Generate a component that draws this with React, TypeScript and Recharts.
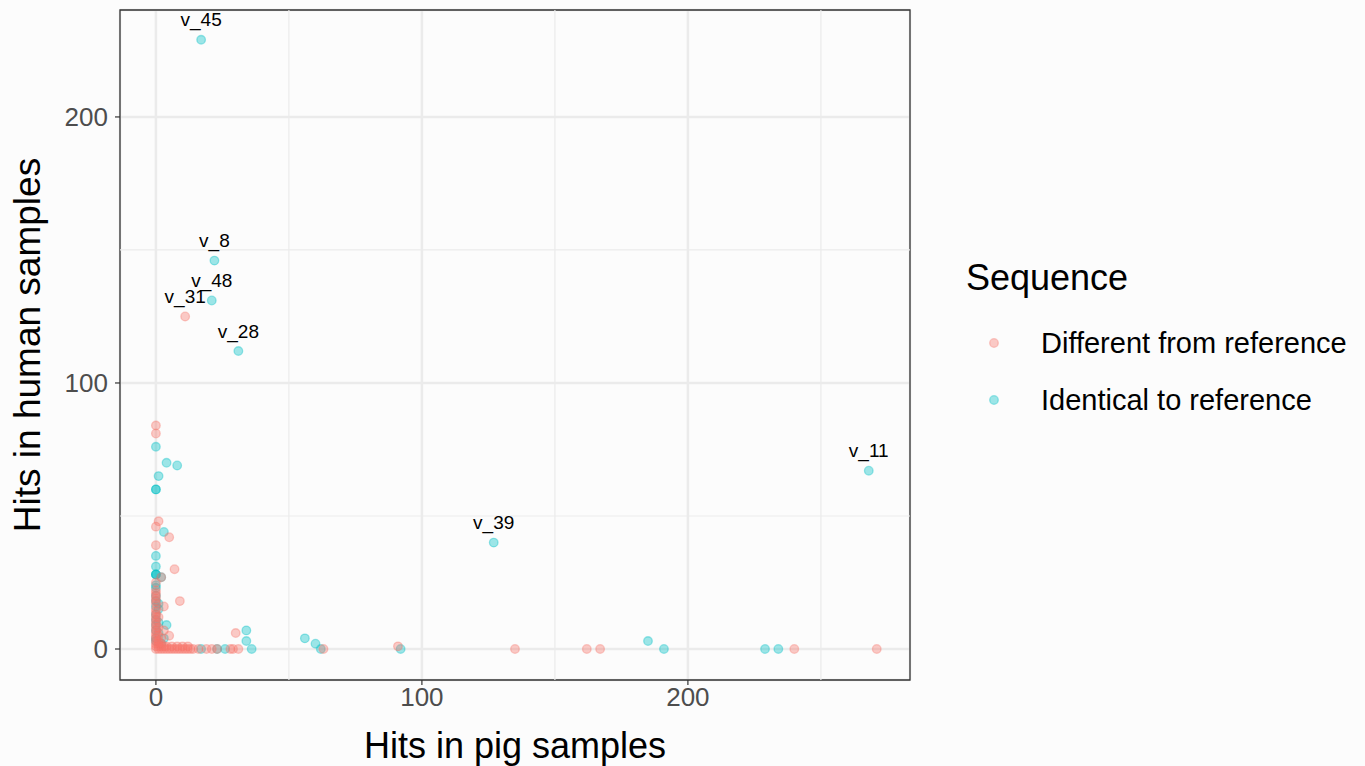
import React from "react";
import {
  ScatterChart, Scatter, XAxis, YAxis, CartesianGrid, ReferenceLine, ReferenceArea, LabelList,
} from "recharts";

// [pig hits, human hits]
const differentPts: [number, number][] = [
  [0, 84], [0, 81], [1, 48], [0, 46], [5, 42], [0, 39], [7, 30], [2, 27], [9, 18], [3, 16], [5, 5], [30, 6], [91, 1],
  [0, 25], [0, 22], [0, 21], [0, 20], [0, 19], [0, 18], [0, 17], [0, 15], [0, 14], [0, 13], [0, 12], [0, 11],
  [0, 10], [0, 9], [0, 8], [0, 7], [0, 6], [0, 5], [0, 4], [0, 3], [0, 2], [0, 1], [0, 0],
  [1, 0], [1, 1], [1, 2], [1, 3], [1, 5], [1, 8], [1, 12], [2, 0], [2, 1], [2, 2], [2, 4], [3, 0], [3, 1], [3, 7],
  [4, 0], [5, 0], [6, 0], [7, 0], [8, 0], [9, 0], [10, 0], [11, 0], [12, 0], [13, 0], [14, 0],
  [4, 1], [6, 1], [8, 1], [10, 1], [12, 1],
  [16, 0], [19, 0], [21, 0], [23, 0], [28, 0], [29, 0], [31, 0], [63, 0],
  [135, 0], [162, 0], [167, 0], [240, 0], [271, 0],
];
const differentLabeled: [number, number, string][] = [[11, 125, "v_31"]];

const identicalPts: [number, number][] = [
  [0, 76], [4, 70], [8, 69], [1, 65], [0, 60], [0, 60], [3, 44], [0, 35], [0, 31], [0, 28], [0, 28], [0, 28],
  [2, 27], [0, 24], [0, 23], [0, 20], [0, 18], [1, 17], [0, 16], [1, 15], [0, 13], [0, 11], [1, 10], [0, 9],
  [0, 7], [1, 6], [0, 4], [0, 3], [4, 9], [3, 4], [2, 2],
  [17, 0], [23, 0], [26, 0], [34, 7], [34, 3], [36, 0], [56, 4], [60, 2], [62, 0], [92, 0],
  [185, 3], [191, 0], [229, 0], [234, 0],
];
const identicalLabeled: [number, number, string][] = [
  [17, 229, "v_45"], [22, 146, "v_8"], [21, 131, "v_48"], [31, 112, "v_28"], [268, 67, "v_11"], [127, 40, "v_39"],
];

const seriesNames = ["Different from reference", "Identical to reference"];
const seriesColors = ["#F8766D", "#00BFC4"];
const majorTicks = [0, 100, 200];
const minorX = [50, 150, 250];
const minorY = [50, 150];

const X_DOMAIN: [number, number] = [-13.5, 283.5];
const Y_DOMAIN: [number, number] = [-11.65, 240.2];
const FONT = "'Liberation Sans', Arial, Helvetica, sans-serif";

const toRows = (pts: [number, number][], labeled: [number, number, string][]) => [
  ...pts.map(([pig, human]) => ({ pig, human, name: "" })),
  ...labeled.map(([pig, human, name]) => ({ pig, human, name })),
];

const dot = (color: string) => (props: any) => (
  <circle cx={props.cx} cy={props.cy} r={4.3} fill={color} fillOpacity={0.38}
    stroke={color} strokeOpacity={0.38} strokeWidth={1.3} />
);

const pointLabel = (props: any) => {
  const { x, y, width, value } = props;
  if (!value) return null;
  return (
    <text x={x + width / 2} y={y - 9} textAnchor="middle" fontSize={19} fill="#000" fontFamily={FONT}>
      {value}
    </text>
  );
};

export default function App() {
  const different = toRows(differentPts, differentLabeled);
  const identical = toRows(identicalPts, identicalLabeled);

  return (
    <div style={{ position: "absolute", left: 0, top: 0, width: 1365, height: 766, background: "#FCFCFC", fontFamily: FONT }}>
      <ScatterChart width={1365} height={766} margin={{ top: 10, right: 455, bottom: 0, left: 0 }}>
        <CartesianGrid stroke="#EBEBEB" strokeWidth={2.5} />
        {minorX.map((v) => (
          <ReferenceLine key={"mx" + v} x={v} stroke="#EBEBEB" strokeWidth={1.2} />
        ))}
        {minorY.map((v) => (
          <ReferenceLine key={"my" + v} y={v} stroke="#EBEBEB" strokeWidth={1.2} />
        ))}
        <XAxis type="number" dataKey="pig" domain={X_DOMAIN} ticks={majorTicks} allowDataOverflow
          height={86} axisLine={false} tickSize={5} tickMargin={3}
          tickLine={{ stroke: "#333333", strokeWidth: 1.2 }}
          tick={{ fontSize: 26, fill: "#4D4D4D", fontFamily: FONT }}
          label={{ value: "Hits in pig samples", position: "insideBottom", offset: 8, fontSize: 36, fill: "#000", fontFamily: FONT }} />
        <YAxis type="number" dataKey="human" domain={Y_DOMAIN} ticks={majorTicks} allowDataOverflow
          width={120} axisLine={false} tickSize={5} tickMargin={7}
          tickLine={{ stroke: "#333333", strokeWidth: 1.2 }}
          tick={{ fontSize: 26, fill: "#4D4D4D", fontFamily: FONT }}
          label={{ value: "Hits in human samples", angle: -90, position: "insideLeft", offset: 27, fontSize: 37, fill: "#000", fontFamily: FONT, style: { textAnchor: "middle" } }} />
        <Scatter name={seriesNames[1]} data={identical} shape={dot(seriesColors[1])} isAnimationActive={false}>
          <LabelList dataKey="name" content={pointLabel} />
        </Scatter>
        <Scatter name={seriesNames[0]} data={different} shape={dot(seriesColors[0])} isAnimationActive={false}>
          <LabelList dataKey="name" content={pointLabel} />
        </Scatter>
        <ReferenceArea x1={X_DOMAIN[0]} x2={X_DOMAIN[1]} y1={Y_DOMAIN[0]} y2={Y_DOMAIN[1]}
          fill="none" fillOpacity={0} stroke="#333333" strokeWidth={1.3} ifOverflow="visible" />
      </ScatterChart>

      <div style={{ position: "absolute", left: 966, top: 258, color: "#000" }}>
        <div style={{ fontSize: 36, lineHeight: "40px", whiteSpace: "nowrap" }}>Sequence</div>
        {seriesNames.map((name, i) => (
          <div key={name} style={{ position: "absolute", left: 0, top: 65 + i * 57, width: 400, height: 40, display: "flex", alignItems: "center" }}>
            <svg width={60} height={40} style={{ position: "absolute", left: 0, top: 0 }}>
              <circle cx={28} cy={20} r={4.3} fill={seriesColors[i]} fillOpacity={0.38}
                stroke={seriesColors[i]} strokeOpacity={0.38} strokeWidth={1.3} />
            </svg>
            <span style={{ position: "absolute", left: 75, fontSize: 29, whiteSpace: "nowrap" }}>{name}</span>
          </div>
        ))}
      </div>
    </div>
  );
}
